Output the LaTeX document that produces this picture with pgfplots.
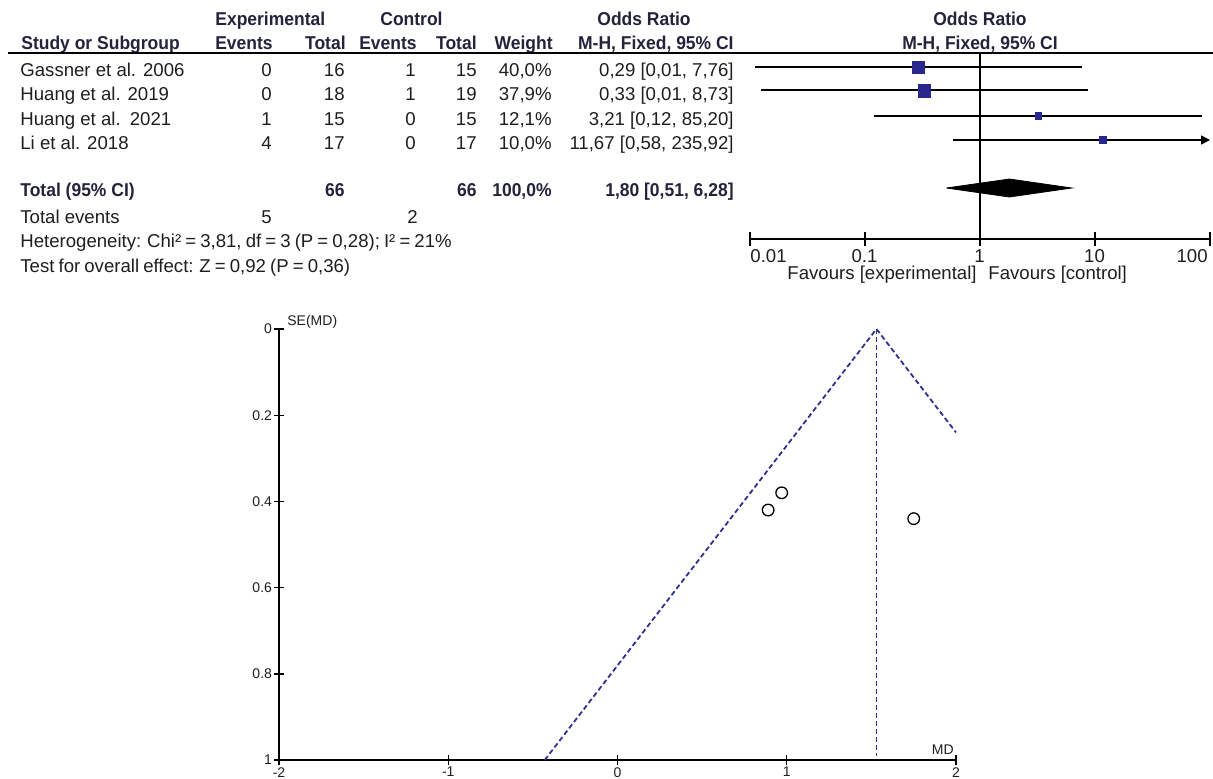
\documentclass[border=0pt]{standalone}
\usepackage{pgfplots}
\pgfplotsset{compat=1.18}
\usepackage{fontspec}
\setmainfont{Liberation Sans}[BoldFeatures={FakeStretch=0.94}]
\usetikzlibrary{arrows.meta}
\definecolor{sqblue}{RGB}{40,40,140}
\definecolor{fblue}{RGB}{48,48,145}
\definecolor{txt}{RGB}{30,30,30}
\definecolor{hdr}{RGB}{35,35,60}
\begin{document}
\begin{tikzpicture}[font=\fontsize{9.3}{11}\selectfont]
\useasboundingbox (0pt,0pt) rectangle (606.5pt,-389pt);
\begin{scope}[x=0.5pt,y=-0.5pt,every node/.style={inner sep=0pt,text=txt}]
% ---------- header ----------
\begin{scope}[every node/.style={inner sep=0pt,text=hdr,font=\fontsize{9.3}{11}\selectfont\bfseries}]
\node[anchor=base west] at (215,25) {Experimental};
\node[anchor=base west] at (380,25) {Control};
\node[anchor=base west] at (597,25) {Odds Ratio};
\node[anchor=base] at (980,25) {Odds Ratio};
\node[anchor=base west] at (21,49) {Study or Subgroup};
\node[anchor=base east] at (273,49) {Events};
\node[anchor=base east] at (346,49) {Total};
\node[anchor=base east] at (417,49) {Events};
\node[anchor=base east] at (477,49) {Total};
\node[anchor=base east] at (553,49) {Weight};
\node[anchor=base east] at (734,49) {M-H, Fixed, 95\% CI};
\node[anchor=base] at (980,49) {M-H, Fixed, 95\% CI};
\end{scope}
\draw[line width=0.8pt,black] (8,53) -- (1213,53);
% ---------- rows ----------
\foreach \y/\name/\ee/\et/\ce/\ct/\w/\ci in {
  76/{Gassner et al. 2006}/0/16/1/15/{40,0\%}/{0,29 [0,01, 7,76]},
  100/{Huang et al. 2019}/0/18/1/19/{37,9\%}/{0,33 [0,01, 8,73]},
  125/{Huang et al.\kern2pt\ 2021}/1/15/0/15/{12,1\%}/{3,21 [0,12, 85,20]},
  149/{Li et al. 2018}/4/17/0/17/{10,0\%}/{11,67 [0,58, 235,92]}}{
  \node[anchor=base west] at (20,\y) {\name};
  \node[anchor=base east] at (272,\y) {\ee};
  \node[anchor=base east] at (345,\y) {\et};
  \node[anchor=base east] at (416,\y) {\ce};
  \node[anchor=base east] at (477,\y) {\ct};
  \node[anchor=base east] at (552,\y) {\w};
  \node[anchor=base east] at (734,\y) {\ci};
}
\begin{scope}[every node/.style={inner sep=0pt,text=hdr,font=\fontsize{9.3}{11}\selectfont\bfseries}]
\node[anchor=base west] at (20,196) {Total (95\% CI)};
\node[anchor=base east] at (345,196) {66};
\node[anchor=base east] at (477,196) {66};
\node[anchor=base east] at (552,196) {100,0\%};
\node[anchor=base east] at (734,196) {1,80 [0,51, 6,28]};
\end{scope}
\node[anchor=base west] at (20,223) {Total events};
\node[anchor=base east] at (272,223) {5};
\node[anchor=base east] at (418,223) {2};
\node[anchor=base west] at (20,247) {\spaceskip=0.22em Heterogeneity: Chi² = 3,81, df = 3 (P = 0,28); I² = 21\%};
\node[anchor=base west] at (20,272) {\spaceskip=0.22em Test for overall effect: Z = 0,92 (P = 0,36)};
\node[anchor=base east] at (977,279) {Favours [experimental]};
\node[anchor=base west] at (988,279) {Favours [control]};
\node[anchor=base west] at (750,262) {0.01};
\node[anchor=base] at (864.5,262) {0.1};
\node[anchor=base] at (979.5,262) {1};
\node[anchor=base] at (1094.5,262) {10};
\node[anchor=base east] at (1208,262) {100};
\node[anchor=base west, font=\fontsize{7}{8}\selectfont] at (287,325) {SE(MD)};
\node[anchor=base east, font=\fontsize{7}{8}\selectfont] at (954,754) {MD};
\end{scope}
% ---------- forest plot ----------
\begin{axis}[at={(375pt,-119.5pt)}, anchor=south west, scale only axis,
  width=230pt, height=93pt,
  xmode=log, xmin=0.01, xmax=100, ymin=53, ymax=239, y dir=reverse,
  axis x line=bottom, axis y line=none,
  x axis line style={-, line width=0.7pt, black},
  xtick={0.01,0.1,1,10,100}, xticklabels={}, xminorticks=false,
  major tick length=7pt, tick align=center,
  major tick style={line width=0.7pt, black}, clip=false]
\addplot[black, line width=0.7pt] coordinates {(1,53) (1,239)};
\addplot[black, line width=0.7pt] coordinates {(0.011,67) (7.76,67)};
\addplot[black, line width=0.7pt] coordinates {(0.0125,90) (8.73,90)};
\addplot[black, line width=0.7pt] coordinates {(0.12,116) (85.20,116)};
\addplot[black, line width=0.7pt, -{Triangle[length=4.5pt,width=4.5pt]}] coordinates {(0.58,140) (100,140)};
\addplot[only marks, mark=square*, mark size=3pt, sqblue] coordinates {(0.29,67)};
\addplot[only marks, mark=square*, mark size=3.1pt, sqblue] coordinates {(0.33,91)};
\addplot[only marks, mark=square*, mark size=1.6pt, sqblue] coordinates {(3.21,116)};
\addplot[only marks, mark=square*, mark size=1.6pt, sqblue] coordinates {(11.67,140)};
\addplot[fill=black, draw=black] coordinates {(0.51,188) (1.80,179) (6.28,188) (1.80,197) (0.51,188)};
\end{axis}
% ---------- funnel plot ----------
\begin{axis}[at={(139.5pt,-380pt)}, anchor=south west, scale only axis,
  width=338.5pt, height=215.5pt,
  xmin=-2, xmax=2, ymin=0, ymax=1, y dir=reverse,
  axis x line=bottom, axis y line=left,
  axis line style={-, line width=0.7pt, black},
  xtick={-2,-1,0,1,2}, xticklabels={-2,-1,0,1,2},
  ytick={0,0.2,0.4,0.6,0.8,1}, yticklabels={0,0.2,0.4,0.6,0.8,1},
  tick align=center, major tick length=5pt,
  major tick style={line width=0.7pt, black},
  tick label style={font=\fontsize{7}{8}\selectfont, text=txt},
  yticklabel style={xshift=2.5pt},
  xticklabel style={yshift=2.4pt},
  clip=false]
\addplot[fblue, line width=0.9pt, dash pattern=on 2.5pt off 1.5pt] coordinates {(-0.43,1) (1.53,0) (2,0.24)};
\addplot[fblue, line width=0.9pt, dash pattern=on 2.5pt off 1.5pt] coordinates {(1.53,0) (1.53,0.99)};
\addplot[only marks, mark=o, mark size=2.9pt, black, line width=0.65pt] coordinates {(0.97,0.38) (0.89,0.42) (1.75,0.44)};
\end{axis}
\end{tikzpicture}
\end{document}
